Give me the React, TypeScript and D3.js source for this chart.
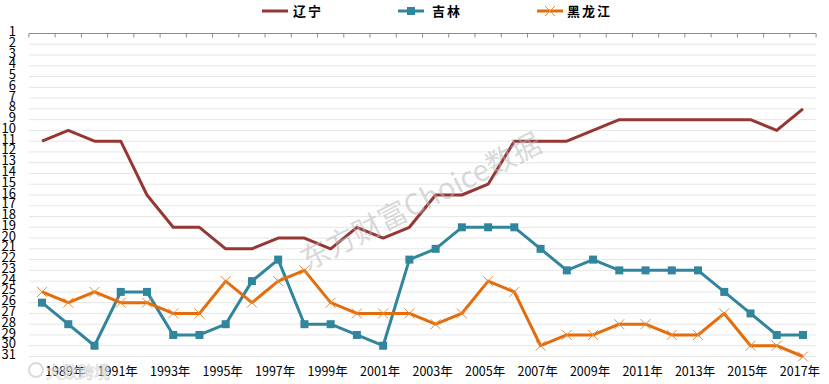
import React from "react";
import * as d3 from "d3";

const years: string[] = [
  "1988", "1989", "1990", "1991", "1992", "1993", "1994", "1995", "1996", "1997",
  "1998", "1999", "2000", "2001", "2002", "2003", "2004", "2005", "2006", "2007",
  "2008", "2009", "2010", "2011", "2012", "2013", "2014", "2015", "2016", "2017",
];
const xTickLabels: string[] = [
  "1989年", "1991年", "1993年", "1995年", "1997年", "1999年", "2001年", "2003年",
  "2005年", "2007年", "2009年", "2011年", "2013年", "2015年", "2017年",
];
const liaoning: number[] = [11, 10, 11, 11, 16, 19, 19, 21, 21, 20, 20, 21, 19, 20, 19, 16, 16, 15, 11, 11, 11, 10, 9, 9, 9, 9, 9, 9, 10, 8];
const jilin: number[] = [26, 28, 30, 25, 25, 29, 29, 28, 24, 22, 28, 28, 29, 30, 22, 21, 19, 19, 19, 21, 23, 22, 23, 23, 23, 23, 25, 27, 29, 29];
const heilongjiang: number[] = [25, 26, 25, 26, 26, 27, 27, 24, 26, 24, 23, 26, 27, 27, 27, 28, 27, 24, 25, 30, 29, 29, 28, 28, 29, 29, 27, 30, 30, 31];
const seriesNames: string[] = ["辽宁", "吉林", "黑龙江"];
const yTicks: number[] = d3.range(1, 32);

const W = 829;
const H = 384;
const colors = ["#953735", "#31859C", "#E46C0A"];
const FONT = "'Noto Sans CJK SC', 'Noto Sans', sans-serif";

export default function App() {
  const x = d3.scaleBand<string>().domain(years).range([28.9, 816.1]).padding(0);
  const y = d3.scaleLinear().domain([1, 31]).range([33.5, 356.5]);
  const cx = (yr: string) => (x(yr) as number) + x.bandwidth() / 2;

  const line = d3
    .line<number>()
    .x((_, i) => cx(years[i]))
    .y((v) => y(v));

  const data = [liaoning, jilin, heilongjiang];
  const xr = x.range();
  const boundaries = d3.range(0, years.length + 1).map((i) => xr[0] + i * x.step());

  return (
    <svg
      width={W}
      height={H}
      style={{ position: "absolute", left: 0, top: 0, background: "#fff" }}
      fontFamily={FONT}
    >
      <rect x={0} y={0} width={W} height={H} fill="#fff" />
      {/* gridlines */}
      {yTicks.slice(1).map((t) => (
        <line key={"g" + t} x1={xr[0]} x2={xr[1]} y1={y(t)} y2={y(t)} stroke="#E6E6E6" strokeWidth={1} />
      ))}
      {/* top axis line */}
      <line x1={xr[0]} x2={xr[1]} y1={y(1)} y2={y(1)} stroke="#8C8C8C" strokeWidth={1} />
      {boundaries.map((bx, i) => (
        <line key={"tk" + i} x1={bx} x2={bx} y1={y(1)} y2={y(1) + 4} stroke="#8C8C8C" strokeWidth={1} />
      ))}
      {/* y labels */}
      {yTicks.map((t) => (
        <text key={"yl" + t} x={16} y={y(t) - 2} dy="0.35em" textAnchor="end" fontSize={13} fill="#000">
          {t}
        </text>
      ))}
      {/* x labels */}
      {xTickLabels.map((lab) => (
        <text key={lab} x={cx(lab.slice(0, 4)) - 3} y={376} textAnchor="middle" fontSize={12.5} fill="#000">
          {lab}
        </text>
      ))}
      {/* lines */}
      {data.map((d, si) => (
        <path key={"l" + si} d={line(d) || ""} fill="none" stroke={colors[si]} strokeWidth={3} strokeLinejoin="round" />
      ))}
      {/* jilin markers */}
      {jilin.map((v, i) => (
        <rect key={"s" + i} x={cx(years[i]) - 4} y={y(v) - 4} width={8} height={8} fill={colors[1]} />
      ))}
      {/* heilongjiang markers */}
      {heilongjiang.map((v, i) => {
        const px = cx(years[i]);
        const py = y(v);
        const r = 5;
        return (
          <path
            key={"x" + i}
            d={`M${px - r},${py - r}L${px + r},${py + r}M${px - r},${py + r}L${px + r},${py - r}`}
            stroke="#E8893A"
            strokeWidth={1}
            fill="none"
          />
        );
      })}
      {/* legend */}
      {seriesNames.map((name, si) => {
        const lx = [262, 398, 537][si];
        const tx = [293, 432, 567][si];
        const ly = 11;
        return (
          <g key={"lg" + si}>
            <line x1={lx} x2={lx + 26} y1={ly} y2={ly} stroke={colors[si]} strokeWidth={3} />
            {si === 1 && <rect x={lx + 13 - 4} y={ly - 4} width={8} height={8} fill={colors[1]} />}
            {si === 2 && (
              <path
                d={`M${lx + 8},${ly - 5}L${lx + 18},${ly + 5}M${lx + 8},${ly + 5}L${lx + 18},${ly - 5}`}
                stroke="#E8893A"
                strokeWidth={1}
              />
            )}
            <text x={tx} y={ly} dy="0.36em" fontSize={13} fontWeight="bold" fill="#000" letterSpacing={2}>
              {name}
            </text>
          </g>
        );
      })}
      {/* watermarks */}
      <text
        x={420}
        y={212}
        textAnchor="middle"
        fontSize={29}
        fill="rgba(185,185,185,0.55)"
        transform="rotate(-27 420 200)"
      >
        东方财富Choice数据
      </text>
      <g opacity={0.7}>
        <circle cx={36} cy={370} r={7} fill="none" stroke="#ccc" strokeWidth={2} />
        <text x={46} y={378} fontSize={16} fill="#fff" stroke="#d0d0d0" strokeWidth={0.8}>
          大数跨境
        </text>
      </g>
    </svg>
  );
}
